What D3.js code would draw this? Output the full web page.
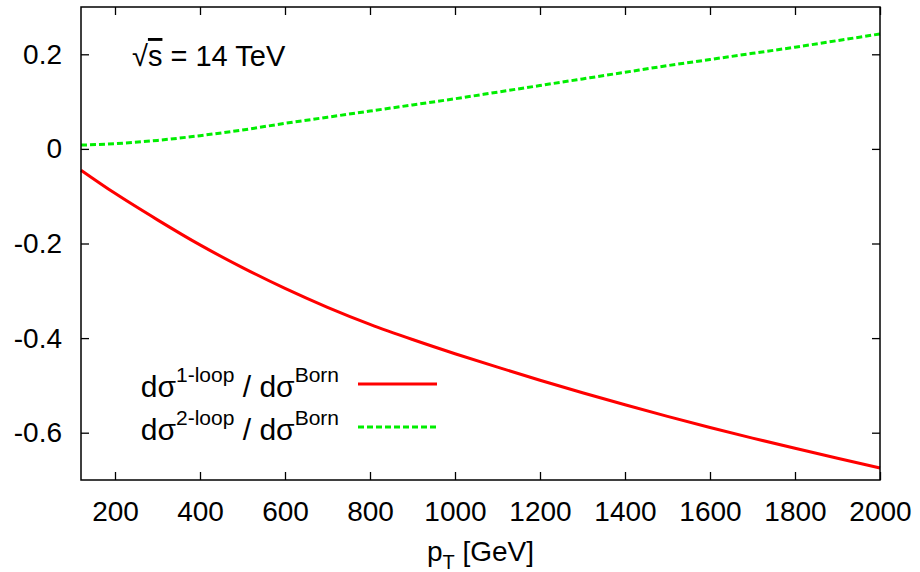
<!DOCTYPE html>
<html>
<head>
<meta charset="utf-8">
<script src="https://cdn.jsdelivr.net/npm/d3@7"></script>
<style>
  body { margin: 0; background: #fff; }
  svg { display: block; font-family: "Liberation Sans", Arial, sans-serif; }
</style>
</head>
<body>
<svg id="chart" width="920" height="572"></svg>
<script>
var ptValues = [120, 200, 300, 400, 500, 600, 700, 800, 900, 1000, 1100,
                1200, 1300, 1400, 1500, 1600, 1700, 1800, 1900, 2000];
// d sigma^{1-loop} / d sigma^{Born}
var oneLoop = [-0.045, -0.094, -0.150, -0.203, -0.251, -0.295, -0.335, -0.371, -0.403, -0.433, -0.4615,
               -0.489, -0.5155, -0.541, -0.5655, -0.589, -0.6115, -0.633, -0.654, -0.6745];
// d sigma^{2-loop} / d sigma^{Born}
var twoLoop = [0.008, 0.011, 0.018, 0.028, 0.040, 0.054, 0.067, 0.080, 0.093, 0.106, 0.120,
               0.134, 0.148, 0.162, 0.176, 0.189, 0.202, 0.215, 0.229, 0.243];
var xTicks = [200, 400, 600, 800, 1000, 1200, 1400, 1600, 1800, 2000];
var yTicks = [-0.6, -0.4, -0.2, 0, 0.2];

var margin = {left: 81, right: 40, top: 7, bottom: 92};
var width = 920 - margin.left - margin.right;
var height = 572 - margin.top - margin.bottom;

var svg = d3.select("#chart");
var g = svg.append("g")
  .attr("transform", "translate(" + margin.left + "," + margin.top + ")");

var x = d3.scaleLinear().domain([120, 2000]).range([0, width]);
var y = d3.scaleLinear().domain([-0.7, 0.3]).range([height, 0]);

var fmtY = function(d) { return d === 0 ? "0" : d.toFixed(1); };
var tick = 8;

// axes: ticks point inward on all four sides (gnuplot style)
g.append("g")
  .attr("class", "axis")
  .attr("transform", "translate(0," + height + ")")
  .call(d3.axisBottom(x).tickValues(xTicks).tickSize(-tick).tickPadding(21.5).tickFormat(d3.format("d")));
g.append("g")
  .attr("class", "axis")
  .call(d3.axisTop(x).tickValues(xTicks).tickSize(-tick).tickFormat(""));
g.append("g")
  .attr("class", "axis")
  .call(d3.axisLeft(y).tickValues(yTicks).tickSize(-tick).tickPadding(19).tickFormat(fmtY));
g.append("g")
  .attr("class", "axis")
  .attr("transform", "translate(" + width + ",0)")
  .call(d3.axisRight(y).tickValues(yTicks).tickSize(-tick).tickFormat(""));

g.selectAll(".axis .domain").remove();
g.selectAll(".axis line").attr("stroke", "#000").attr("stroke-width", 1.3);
g.selectAll(".axis text")
  .attr("fill", "#000")
  .style("font-size", "28px")
  .style("font-family", "'Liberation Sans', Arial, sans-serif");

// curves
var line = d3.line()
  .x(function(d) { return x(d[0]); })
  .y(function(d) { return y(d[1]); })
  .curve(d3.curveMonotoneX);

var series = [
  {name: "1-loop", values: oneLoop, color: "#ff0000", dash: null},
  {name: "2-loop", values: twoLoop, color: "#00ee00", dash: "6,3"}
];

series.forEach(function(s) {
  g.append("path")
    .datum(ptValues.map(function(p, i) { return [p, s.values[i]]; }))
    .attr("d", line)
    .attr("fill", "none")
    .attr("stroke", s.color)
    .attr("stroke-width", 3)
    .attr("stroke-dasharray", s.dash);
});

// frame
g.append("rect")
  .attr("width", width)
  .attr("height", height)
  .attr("fill", "none")
  .attr("stroke", "#000")
  .attr("stroke-width", 1.5);

// sqrt(s) label
var title = svg.append("text")
  .attr("x", 132)
  .attr("y", 66)
  .style("font-size", "29px");
title.append("tspan").text("\u221A");
title.append("tspan").style("text-decoration", "overline").text("s");
title.append("tspan").text(" = 14 TeV");

// legend
var legend = svg.append("g");
series.forEach(function(s, i) {
  var yy = 397 + i * 43;
  var t = legend.append("text")
    .attr("x", 339)
    .attr("y", yy)
    .attr("text-anchor", "end")
    .style("font-size", "30px");
  t.append("tspan").text("d\u03C3");
  t.append("tspan").attr("dy", -15).style("font-size", "21px").text(s.name);
  t.append("tspan").attr("dy", 15).text(" / d\u03C3");
  t.append("tspan").attr("dy", -15).style("font-size", "21px").text("Born");

  legend.append("line")
    .attr("x1", 358).attr("x2", 437)
    .attr("y1", yy - 13).attr("y2", yy - 13)
    .attr("stroke", s.color)
    .attr("stroke-width", 3)
    .attr("stroke-dasharray", s.dash);
});

// x axis title
var xt = svg.append("text")
  .attr("x", margin.left + width / 2)
  .attr("y", 561)
  .attr("text-anchor", "middle")
  .style("font-size", "28px");
xt.append("tspan").text("p");
xt.append("tspan").attr("dy", 8).style("font-size", "20px").text("T");
xt.append("tspan").attr("dy", -8).text(" [GeV]");
</script>
</body>
</html>
